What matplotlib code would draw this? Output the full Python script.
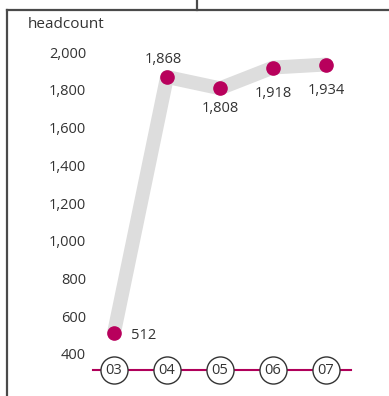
import matplotlib
matplotlib.use("Agg")
import matplotlib.pyplot as plt
from matplotlib.lines import Line2D

plt.rcParams['font.family'] = ['Open Sans', 'DejaVu Sans']

# data
years = ['03', '04', '05', '06', '07']
headcount = [512, 1868, 1808, 1918, 1934]
yticks = [400, 600, 800, 1000, 1200, 1400, 1600, 1800, 2000]

W, H = 389, 396
fig = plt.figure(figsize=(W / 100, H / 100), dpi=100)


def fx(px):
    return px / W


def fy(py):
    return 1 - py / H


# frame lines around the panel
for xs, ys in [((7, 7), (10, H)), ((7, W), (10, 10)), ((197, 197), (0, 10))]:
    fig.add_artist(Line2D([fx(x) for x in xs], [fy(y) for y in ys],
                          color='#4a4a4a', linewidth=1.6))

left, right, top, bottom = 93, 351, 20, 370
ax = fig.add_axes([fx(left), fy(bottom), fx(right) - fx(left), fy(top) - fy(bottom)])

x = list(range(len(years)))
ax.set_xlim(-0.396, 4.47)
ax.set_ylim(315, 2170)

ax.plot(x, headcount, color='#dddddd', linewidth=10, solid_capstyle='round',
        solid_joinstyle='round', zorder=2)
ax.plot(x, headcount, 'o', color='#b8005c', markersize=9.5, zorder=3)

# value labels
offsets = [(17, -3, 'left', 'center'), (-4, 10, 'center', 'bottom'),
           (0, -13, 'center', 'top'), (0, -18, 'center', 'top'),
           (0, -18, 'center', 'top')]
for xi, v, (dx, dy, ha, va) in zip(x, headcount, offsets):
    ax.annotate(f'{v:,}', (xi, v), xytext=(dx, dy), textcoords='offset pixels',
                ha=ha, va=va, fontsize=10.5, color='#333333')

# x axis: crimson line with circled year labels
ax.axhline(315, color='#b0005a', linewidth=1.5, zorder=1, clip_on=False)
ax.scatter(x, [315] * len(x), s=380, facecolor='white', edgecolor='#333333',
           linewidth=1.0, zorder=4, clip_on=False)
for xi, lab in zip(x, years):
    ax.text(xi, 315, lab, ha='center', va='center', fontsize=10.5,
            color='#333333', zorder=5)

ax.set_xticks([])
ax.set_yticks(yticks)
ax.set_yticklabels([f'{t:,}' for t in yticks])
ax.tick_params(axis='y', length=0, pad=5, labelsize=10.5, labelcolor='#333333')
for s in ax.spines.values():
    s.set_visible(False)

fig.text(fx(28), fy(25), 'headcount', ha='left', va='center',
         fontsize=11, color='#333333')

fig.savefig('out.png', dpi=100)
